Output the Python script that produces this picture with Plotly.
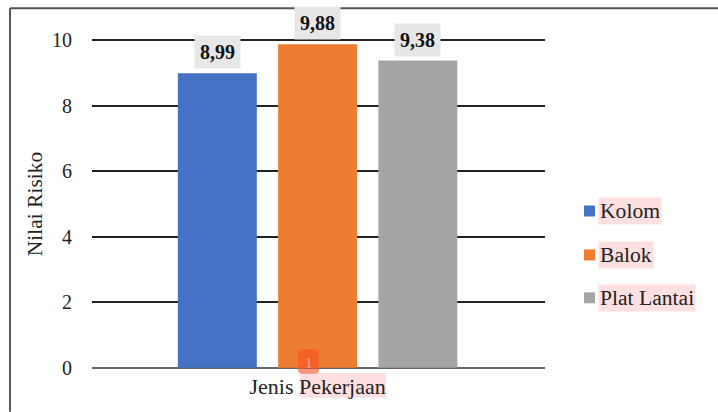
import plotly.graph_objects as go

W, H = 718, 412
category = ["Jenis Pekerjaan"]
series_names = ["Kolom", "Balok", "Plat Lantai"]
series_values = [8.99, 9.88, 9.38]
value_labels = ["8,99", "9,88", "9,38"]
colors = ["#4472C4", "#ED7D31", "#A5A5A5"]
y_ticks = [0, 2, 4, 6, 8, 10]
FONT = "Liberation Serif"
PINK = "#FFE0E0"

# the axis runs slightly past 0 and 10 so both end lines are drawn;
# 10 falls at pixel row 40 and 0 at pixel row 368
L, R, T, B = 92, 545, 36.72, 371.28


def px(x):
    return (x - L) / (R - L)


def py(y):
    return (B - y) / (B - T)


fig = go.Figure()
for name, val, col in zip(series_names, series_values, colors):
    fig.add_bar(name=name, x=category, y=[val], marker=dict(color=col, line=dict(width=0)), showlegend=False)

for i, (val, lab) in enumerate(zip(series_values, value_labels)):
    fig.add_annotation(
        x=category[0], y=val, xref="x", yref="y", text=f"<b>{lab}</b>", showarrow=False,
        xshift=(i - 1) * 100.3, yanchor="bottom", yshift=4,
        font=dict(family=FONT, size=20, color="#111111"),
        bgcolor="#E7E7E7", borderpad=5,
    )


def rounded(x0, y0, x1, y1, r):
    a, b, c, d = px(x0), py(y0), px(x1), py(y1)
    rx, ry = r / (R - L), r / (B - T)
    return (f"M {a+rx} {b} L {c-rx} {b} Q {c} {b} {c} {b-ry} L {c} {d+ry} Q {c} {d} {c-rx} {d} "
            f"L {a+rx} {d} Q {a} {d} {a} {d+ry} L {a} {b-ry} Q {a} {b} {a+rx} {b} Z")


shapes = [
    dict(type="line", xref="paper", yref="paper", x0=px(10), x1=px(10), y0=py(8), y1=py(412),
         line=dict(color="#222222", width=1.5)),
    dict(type="line", xref="paper", yref="paper", x0=px(10), x1=px(718), y0=py(8), y1=py(8),
         line=dict(color="#555555", width=2)),
    # highlight behind the axis label word
    dict(type="rect", xref="paper", yref="paper", x0=px(300), x1=px(386), y0=py(373), y1=py(398),
         fillcolor=PINK, line=dict(width=0), layer="below"),
    # comment badge
    dict(type="path", xref="paper", yref="paper", path=rounded(298, 349.5, 319, 374, 4),
         fillcolor="rgba(250,80,30,0.6)", line=dict(width=0), layer="above"),
]

# legend entries: swatch plus highlighted label
legend_rows = [211, 255, 298]
for name, col, row in zip(series_names, colors, legend_rows):
    shapes.append(dict(type="rect", xref="paper", yref="paper", x0=px(584), x1=px(595),
                       y0=py(row - 5.5), y1=py(row + 5.5), fillcolor=col, line=dict(width=0)))
    fig.add_annotation(xref="paper", yref="paper", x=px(598), y=py(row), xanchor="left", yanchor="middle",
                       text=name, showarrow=False, bgcolor=PINK, borderpad=1,
                       font=dict(family=FONT, size=21.6, color="#222222"))

fig.add_annotation(xref="paper", yref="paper", x=px(308.5), y=py(363), xanchor="center", yanchor="middle",
                   text="1", showarrow=False, font=dict(family=FONT, size=15, color="#F6A58A"))

fig.update_layout(
    width=W, height=H, autosize=False,
    margin=dict(l=L, r=W - R, t=T, b=H - B, pad=0),
    paper_bgcolor="white", plot_bgcolor="white", barmode="group",
    bargap=0.336, bargroupgap=0.2125,
    font=dict(family=FONT, size=20, color="#222222"),
    shapes=shapes, showlegend=False,
    xaxis=dict(range=[-0.498, 0.502], showgrid=False, zeroline=False, showline=False, ticks="", fixedrange=True,
               tickfont=dict(size=22, color="#222222"), ticklabelstandoff=0),
    yaxis=dict(range=[-0.1, 10.1], tickvals=y_ticks, ticktext=[str(t) for t in y_ticks],
               showgrid=True, gridcolor="#222222", gridwidth=1.5, zeroline=True, zerolinecolor="#666666",
               zerolinewidth=2, showline=False, ticks="", fixedrange=True,
               tickfont=dict(size=20, color="#222222"), ticklabelstandoff=19,
               title=dict(text="Nilai Risiko", font=dict(size=21.5, color="#222222"), standoff=3)),
)
fig.write_html("out.html", config=dict(displayModeBar=False),
               post_script="document.body.style.margin='0';")
